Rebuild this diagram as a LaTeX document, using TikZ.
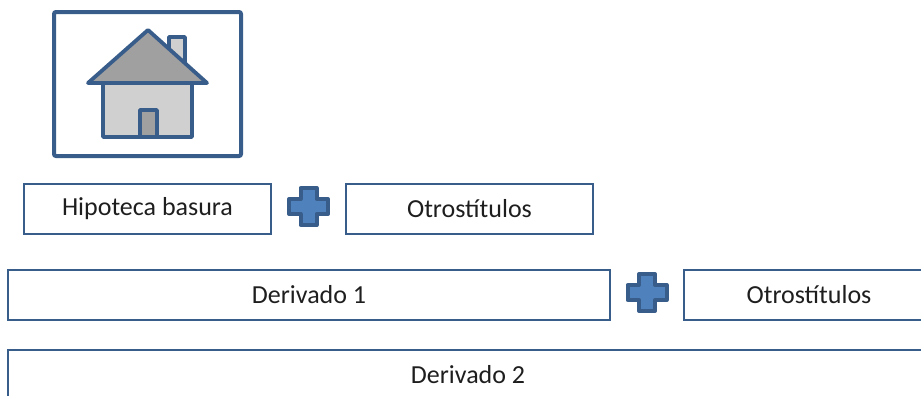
\documentclass[tikz,border=0pt]{standalone}
\usepackage{fontspec}
\setmainfont{Carlito}
\usetikzlibrary{shapes.geometric}
\definecolor{borde}{RGB}{56,93,138}
\definecolor{relleno}{RGB}{79,129,189}
\definecolor{tejado}{RGB}{160,160,160}
\definecolor{muro}{RGB}{208,208,208}
\definecolor{texto}{RGB}{30,30,30}
\tikzstyle{caja} = [rectangle, minimum height=25pt, inner sep=0pt, text centered, draw=borde, line width=0.75pt, text=texto, font=\fontsize{13}{15}\selectfont]
\tikzstyle{marco} = [rectangle, minimum width=93.5pt, minimum height=72pt, draw=borde, line width=2pt, rounded corners=1pt]
\tikzstyle{casa} = [draw=borde, line width=1.9pt, line join=round]
\tikzset{mas/.pic={\draw[fill=relleno, draw=borde, line width=2pt, line join=round] (-8,-18.5) -- (8,-18.5) -- (8,-7.5) -- (19.5,-7.5) -- (19.5,7.5) -- (8,7.5) -- (8,18.5) -- (-8,18.5) -- (-8,7.5) -- (-19.5,7.5) -- (-19.5,-7.5) -- (-8,-7.5) -- cycle;}}

\begin{document}
\begin{tikzpicture}[x=0.5pt, y=-0.5pt]
\useasboundingbox (0,0) rectangle (921,396);
\clip (0,0) rectangle (921,396);
\node (foto) [marco] at (147.5,84) {};
\draw [casa, fill=muro] (169,37) rectangle (185,64);
\draw [casa, fill=muro] (103,83) rectangle (192,137);
\draw [casa, fill=tejado] (88,83) -- (148,30) -- (207,83) -- cycle;
\draw [casa, fill=tejado] (140,110) rectangle (157,137);
\node (hipoteca) [caja, minimum width=123.5pt] at (147.5,209) {Hipoteca basura};
\coordinate (mas1) at (308.5,206.5);
\pic at (mas1) {mas};
\node (otros1) [caja, minimum width=123.5pt] at (469.5,209) {Otrostítulos};
\node (derivado1) [caja, minimum width=301pt] at (309,295) {Derivado 1};
\coordinate (mas2) at (647,292.5);
\pic at (mas2) {mas};
\node (otros2) [caja, minimum width=125pt] at (809,295) {Otrostítulos};
\node (derivado2) [caja, minimum width=460pt] at (468,375) {Derivado 2};
\end{tikzpicture}
\end{document}
